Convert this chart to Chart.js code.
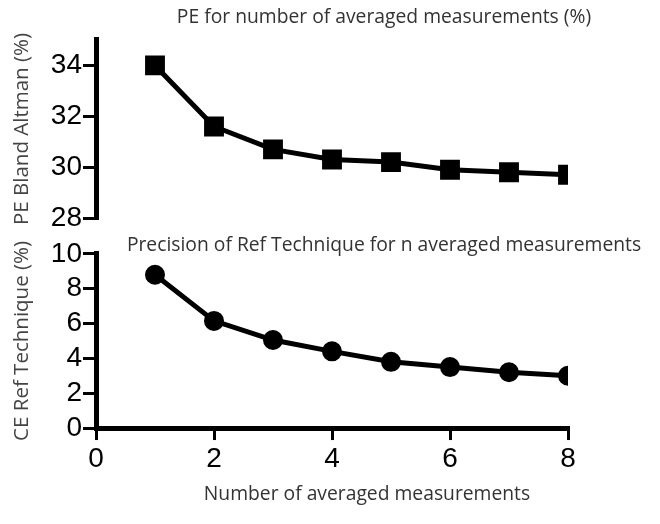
<!DOCTYPE html>
<html>
<head>
<meta charset="utf-8">
<script src="https://cdn.jsdelivr.net/npm/chart.js@4.4.0/dist/chart.umd.min.js"></script>
<style>
  html, body { margin: 0; padding: 0; background: #fff; }
  #wrap { position: relative; width: 660px; height: 524px; overflow: hidden; }
  #topChart { position: absolute; left: 0; top: 0; }
  #bottomChart { position: absolute; left: 0; top: 236px; }
</style>
</head>
<body>
<div id="wrap">
  <canvas id="topChart" width="768" height="262"></canvas>
  <canvas id="bottomChart" width="734" height="288"></canvas>
</div>
<script>
// data
const xs = [1, 2, 3, 4, 5, 6, 7, 8];
const peValues = [34.0, 31.6, 30.7, 30.3, 30.2, 29.9, 29.8, 29.7];
const ceValues = [8.8, 6.15, 5.05, 4.4, 3.8, 3.5, 3.2, 3.0];
const peTicks = [28, 30, 32, 34];
const ceTicks = [0, 2, 4, 6, 8, 10];
const xTicks = [0, 2, 4, 6, 8];

const tickFont = { family: 'Liberation Sans, Arial, sans-serif', size: 28 };
const textFont = { family: 'Open Sans, sans-serif', size: 19.3, weight: 'normal' };
const yTitleFont = { family: 'Open Sans, sans-serif', size: 20.5 };

function points(vals) {
  return xs.map((x, i) => ({ x: x, y: vals[i] }));
}

function yAxis(min, max, tickList, title) {
  return {
    type: 'linear',
    min: min,
    max: max,
    afterBuildTicks: s => { s.ticks = tickList.map(v => ({ value: v })); },
    afterFit: s => { s.width = 96; },
    border: { width: 5, color: '#000' },
    grid: { drawOnChartArea: false, tickLength: 13, lineWidth: 3, color: '#000' },
    ticks: { font: tickFont, color: '#000', padding: 1, autoSkip: false },
    title: { display: true, text: title, font: yTitleFont, color: '#444', padding: { top: 10, bottom: 0 } }
  };
}

// empty box on the right so the titles centre where they do in the picture
function rightSpace(w) {
  return {
    type: 'linear',
    position: 'right',
    afterFit: s => { s.width = w; },
    ticks: { display: false },
    grid: { display: false },
    border: { display: false }
  };
}

// Top: PE
new Chart(document.getElementById('topChart'), {
  type: 'line',
  data: {
    datasets: [{
      data: points(peValues),
      borderColor: '#000',
      backgroundColor: '#000',
      borderWidth: 5,
      pointStyle: 'rect',
      pointRadius: 10.5,
      tension: 0
    }]
  },
  options: {
    responsive: false,
    animation: false,
    plugins: {
      legend: { display: false },
      tooltip: { enabled: false },
      title: {
        display: true,
        text: 'PE for number of averaged measurements (%)',
        font: textFont,
        color: '#333',
        padding: { top: 6.4, bottom: 10.4 }
      },
      subtitle: {
        display: true,
        position: 'bottom',
        text: 'Precision of Ref Technique for n averaged measurements',
        font: textFont,
        color: '#333',
        padding: { top: 15.4, bottom: 5.4 }
      }
    },
    scales: {
      x: { type: 'linear', min: 0, max: 8, display: false },
      y: yAxis(28, 35, peTicks, 'PE Bland Altman (%)'),
      yR: rightSpace(200)
    }
  }
});

// Bottom: CE
new Chart(document.getElementById('bottomChart'), {
  type: 'line',
  data: {
    datasets: [{
      data: points(ceValues),
      borderColor: '#000',
      backgroundColor: '#000',
      borderWidth: 5,
      pointStyle: 'circle',
      pointRadius: 7.5,
      tension: 0
    }]
  },
  options: {
    responsive: false,
    animation: false,
    layout: { padding: { top: 16 } },
    plugins: {
      legend: { display: false },
      tooltip: { enabled: false },
      subtitle: {
        display: true,
        position: 'bottom',
        text: 'Number of averaged measurements',
        font: textFont,
        color: '#333',
        padding: { top: 4.8, bottom: 18.4 }
      }
    },
    scales: {
      x: {
        type: 'linear',
        min: 0,
        max: 8,
        afterBuildTicks: s => { s.ticks = xTicks.map(v => ({ value: v })); },
        border: { width: 5, color: '#000' },
        grid: { drawOnChartArea: false, tickLength: 12, lineWidth: 3, color: '#000' },
        ticks: { font: tickFont, color: '#000', padding: 2, maxRotation: 0, autoSkip: false }
      },
      y: yAxis(0, 10, ceTicks, 'CE Ref Technique (%)'),
      yR: rightSpace(166)
    }
  }
});
</script>
</body>
</html>
